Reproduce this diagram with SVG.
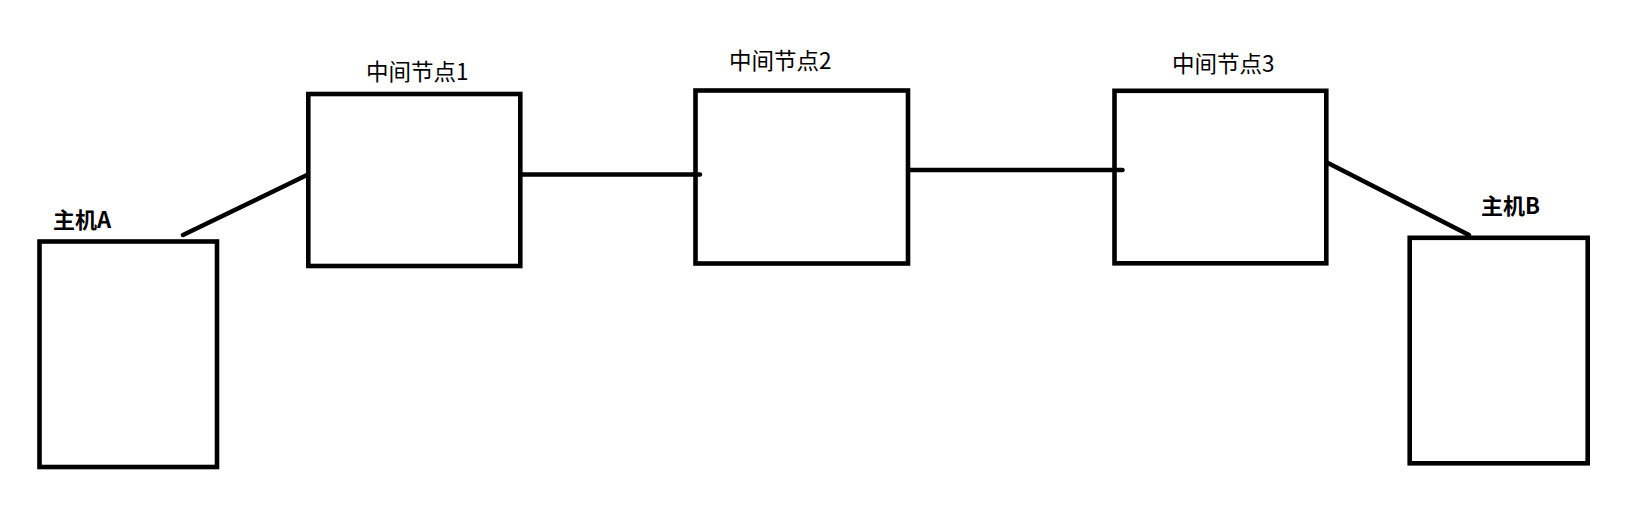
<svg xmlns="http://www.w3.org/2000/svg" width="1629" height="522" viewBox="0 0 1629 522">
<style>
.box{fill:none;stroke:#000;stroke-width:4.6}
.link{fill:none;stroke:#000;stroke-width:4.5;stroke-linecap:round}
.lbl{font-family:"Noto Sans CJK SC","Liberation Sans",sans-serif;font-size:22.5px;fill:#000}
.bold{font-weight:bold;font-size:22px}
</style>
<rect width="1629" height="522" fill="#fff"/>
<g id="connectors">
<line class="link" x1="183" y1="235" x2="307" y2="175"/>
<line class="link" x1="521" y1="174.5" x2="700" y2="174.5"/>
<line class="link" x1="908" y1="170" x2="1122.5" y2="170"/>
<line class="link" x1="1327" y1="162.5" x2="1469" y2="235"/>
</g>
<g id="hostA">
<rect class="box" x="39.5" y="241.5" width="177.5" height="225.5"/>
<text class="lbl bold" x="53" y="228">主机A</text>
</g>
<g id="node1">
<rect class="box" x="308.3" y="94" width="212" height="172"/>
<text class="lbl" x="366" y="80">中间节点1</text>
</g>
<g id="node2">
<rect class="box" x="695.5" y="90.5" width="212.5" height="173"/>
<text class="lbl" x="729" y="68.5">中间节点2</text>
</g>
<g id="node3">
<rect class="box" x="1114.5" y="90.8" width="211.8" height="172.5"/>
<text class="lbl" x="1172" y="71.5">中间节点3</text>
</g>
<g id="hostB">
<rect class="box" x="1409.7" y="237.8" width="178" height="225.5"/>
<text class="lbl bold" x="1481" y="214">主机B</text>
</g>
</svg>
